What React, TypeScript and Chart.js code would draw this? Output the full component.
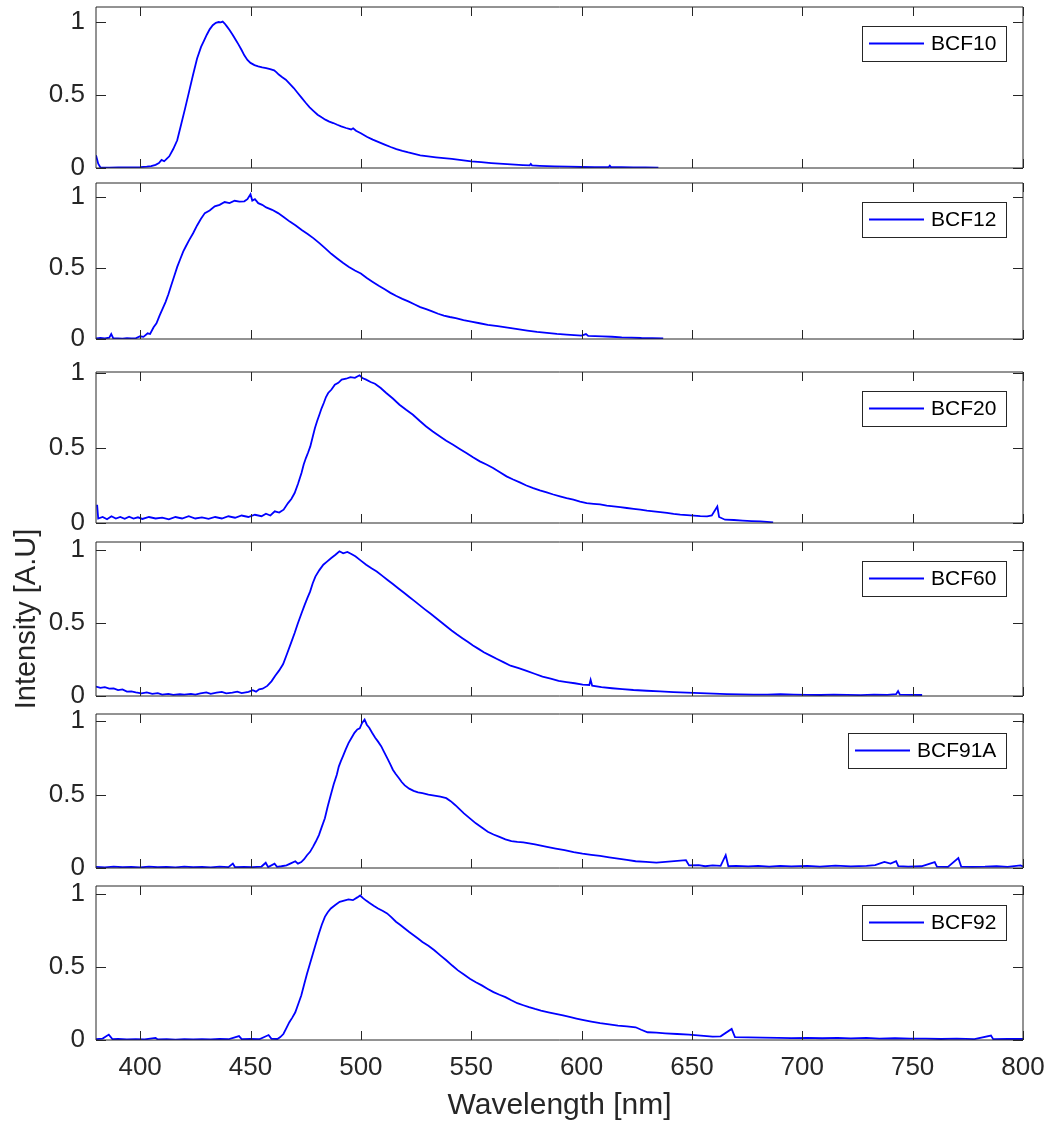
import React, { useEffect, useRef } from 'react';
import { Chart, registerables } from 'chart.js';

Chart.register(...registerables);

const FONT = "'Liberation Sans', Arial, Helvetica, sans-serif";
const TEXT_COLOR = '#262626';
const LINE_COLOR = '#0000ff';

const X_TICKS = [400, 450, 500, 550, 600, 650, 700, 750, 800];
const Y_TICKS = [0, 0.5, 1];
const Y_TICK_LABELS = ['0', '0.5', '1'];
const X_TITLE = 'Wavelength [nm]';
const Y_TITLE = 'Intensity [A.U]';

const SERIES_NAMES = ['BCF10', 'BCF12', 'BCF20', 'BCF60', 'BCF91A', 'BCF92'];

// ---- BCF10 ----
const wl10 = [380, 381, 382, 386, 390, 395, 400, 403, 405, 407, 408.5, 409.7, 410.9, 412, 413.2, 415, 416.8, 418.6, 420.4, 422.2, 424, 425.8, 427.6, 429, 430.2, 431.5, 432.9, 434.3, 435.6, 436.5, 437.4, 438.3, 439.2, 440.5, 441.9, 443.2, 444.6, 445.9, 447.2, 448.6, 450, 451.8, 453.5, 455.3, 457.1, 458.9, 460.7, 461.8, 462.8, 464.4, 466, 467.8, 469.6, 471.4, 473.2, 475, 476.8, 478.6, 480.4, 482.2, 483.9, 485.7, 487.5, 489.3, 491.1, 493.3, 495.6, 496.5, 497.8, 500, 502.7, 505.4, 508.1, 510.8, 513.5, 516.1, 518.8, 521.5, 524.2, 526.9, 530.5, 534, 537.6, 541.2, 545.6, 550, 554.5, 559.1, 564.5, 569.8, 573.4, 576.5, 577, 577.5, 581, 587.7, 594, 600, 606, 612.3, 612.8, 613.3, 618, 623.5, 629, 634.8];
const int10 = [0.087, 0.03, 0.004, 0.003, 0.004, 0.004, 0.006, 0.009, 0.013, 0.022, 0.034, 0.055, 0.046, 0.062, 0.08, 0.13, 0.19, 0.3, 0.41, 0.525, 0.64, 0.75, 0.83, 0.875, 0.913, 0.95, 0.978, 0.995, 1.0, 0.998, 1.003, 0.99, 0.972, 0.945, 0.913, 0.88, 0.845, 0.81, 0.772, 0.74, 0.72, 0.705, 0.697, 0.69, 0.685, 0.678, 0.669, 0.655, 0.64, 0.622, 0.605, 0.577, 0.548, 0.514, 0.48, 0.447, 0.416, 0.39, 0.365, 0.347, 0.331, 0.318, 0.308, 0.296, 0.285, 0.274, 0.264, 0.272, 0.255, 0.238, 0.214, 0.194, 0.177, 0.16, 0.144, 0.13, 0.118, 0.107, 0.097, 0.087, 0.08, 0.073, 0.067, 0.062, 0.054, 0.046, 0.04, 0.034, 0.028, 0.023, 0.02, 0.018, 0.028, 0.018, 0.015, 0.011, 0.009, 0.007, 0.006, 0.006, 0.016, 0.006, 0.005, 0.004, 0.004, 0.003];

// ---- BCF12 ----
const wl12 = [380, 382, 384, 386, 386.9, 387.8, 390, 392, 394, 396, 398, 400, 401.5, 403.4, 404.5, 406.1, 407.4, 408.8, 410.1, 411.5, 412.8, 414.1, 415.5, 416.8, 418.1, 419.5, 420.8, 422.2, 424, 425.8, 427.5, 429.3, 431.5, 433.8, 436, 438.3, 440.5, 442.8, 445, 447.2, 448.6, 450, 450.8, 452, 453.5, 455.3, 457.1, 459.8, 462.5, 465, 467.8, 470.5, 473.2, 475.9, 478.6, 481.2, 483.9, 486.6, 489.3, 492, 494.6, 497.3, 500, 502.7, 505.4, 508.1, 510.8, 513.4, 516.1, 518.8, 521.5, 524.2, 526.9, 529.6, 532.3, 535, 537.6, 540.3, 543, 546.5, 550, 553.8, 557.5, 562, 566.5, 571, 575.4, 579.8, 584.3, 588.8, 593.2, 596.6, 600, 602, 603, 609.3, 613.7, 618.2, 622.6, 627.1, 632, 637];
const int12 = [0.005, 0.008, 0.004, 0.01, 0.035, 0.006, 0.005, 0.003, 0.006, 0.004, 0.005, 0.019, 0.015, 0.04, 0.035, 0.083, 0.11, 0.165, 0.21, 0.26, 0.315, 0.378, 0.445, 0.508, 0.56, 0.615, 0.655, 0.697, 0.745, 0.8, 0.845, 0.887, 0.905, 0.934, 0.945, 0.965, 0.958, 0.974, 0.968, 0.97, 0.985, 1.02, 0.975, 0.985, 0.957, 0.945, 0.927, 0.91, 0.887, 0.86, 0.827, 0.8, 0.768, 0.74, 0.709, 0.675, 0.638, 0.6, 0.567, 0.535, 0.508, 0.482, 0.461, 0.43, 0.402, 0.375, 0.35, 0.325, 0.303, 0.283, 0.265, 0.245, 0.225, 0.21, 0.194, 0.178, 0.165, 0.155, 0.147, 0.133, 0.123, 0.111, 0.1, 0.09, 0.08, 0.069, 0.059, 0.05, 0.043, 0.036, 0.031, 0.027, 0.024, 0.035, 0.022, 0.019, 0.016, 0.012, 0.01, 0.007, 0.006, 0.005];

// ---- BCF20 ----
const wl20 = [380.5, 381, 383, 385, 387, 389, 391, 393, 395, 397, 399, 401, 404, 407, 410, 413, 416, 419, 422, 425, 428, 431, 434, 437, 440, 443, 446, 449, 452, 455, 457, 459, 461, 463, 465, 467, 468.5, 470, 471.5, 473.1, 474.1, 475.1, 476.1, 477.1, 478.2, 479.2, 480.2, 481.2, 482.2, 483.2, 484.2, 485.2, 486.7, 488.2, 489.8, 491.3, 493.3, 495.3, 497.3, 499.4, 500.9, 502.4, 504.4, 506.4, 509, 511.5, 514.5, 517.5, 520.5, 523.6, 526.6, 529.6, 532.6, 535.7, 538.7, 541.8, 544.8, 547.8, 550.8, 553.9, 556.9, 559.9, 563, 566, 569, 572, 575, 578.1, 581.1, 584.2, 587.2, 590.2, 593.2, 596.3, 599.3, 602.3, 605.4, 608.4, 611.4, 614.5, 617.5, 620.5, 623.6, 626.6, 629.6, 632.6, 635.7, 638.7, 641.7, 644.7, 647.8, 650.8, 653.8, 656.9, 659, 661.5, 662.3, 665, 669, 673, 677, 681, 684, 686.8];
const int20 = [0.122, 0.03, 0.04, 0.025, 0.045, 0.03, 0.04, 0.028, 0.042, 0.03, 0.038, 0.027, 0.04, 0.03, 0.036, 0.024, 0.04, 0.03, 0.045, 0.03, 0.038, 0.028, 0.04, 0.03, 0.045, 0.035, 0.05, 0.04, 0.055, 0.045, 0.062, 0.05, 0.078, 0.07, 0.089, 0.133, 0.16, 0.2, 0.26, 0.333, 0.39, 0.433, 0.47, 0.511, 0.575, 0.633, 0.68, 0.722, 0.765, 0.8, 0.84, 0.867, 0.89, 0.922, 0.935, 0.956, 0.962, 0.973, 0.968, 0.985, 0.965, 0.956, 0.94, 0.929, 0.9, 0.867, 0.83, 0.789, 0.755, 0.722, 0.682, 0.644, 0.61, 0.578, 0.548, 0.522, 0.494, 0.467, 0.438, 0.411, 0.39, 0.367, 0.338, 0.311, 0.29, 0.271, 0.25, 0.233, 0.218, 0.204, 0.19, 0.178, 0.166, 0.156, 0.143, 0.133, 0.128, 0.124, 0.116, 0.111, 0.106, 0.1, 0.094, 0.089, 0.083, 0.078, 0.072, 0.067, 0.061, 0.056, 0.052, 0.049, 0.046, 0.044, 0.05, 0.11, 0.04, 0.022, 0.02, 0.016, 0.013, 0.011, 0.008, 0.004];

// ---- BCF60 ----
const wl60 = [380, 382, 384, 386, 388, 390, 392, 394, 396, 398, 400.6, 403, 405.5, 408, 410, 412.8, 415, 418, 420, 423, 425, 427.3, 430, 432, 434.6, 437, 439, 441.8, 444, 446, 449.1, 451, 452.5, 453.9, 455.5, 457.6, 459.5, 461.2, 463, 464.8, 466.6, 468.5, 470, 471.4, 473, 474.5, 475.8, 477, 478.2, 479.4, 481.2, 483, 484.8, 486.6, 488.5, 490.3, 492, 493.9, 495.7, 497.5, 500, 502.4, 504.8, 507.2, 509.6, 512.1, 514.5, 516.9, 519.4, 521.8, 524.2, 526.6, 529, 531.5, 533.9, 536.3, 538.7, 541.1, 543.6, 546, 548.4, 550.8, 553.3, 555.7, 558.7, 561.7, 564.8, 567.8, 571.5, 575.1, 578.7, 582.3, 586, 589.6, 593.2, 596.9, 600.5, 603.5, 604.1, 604.8, 609, 613.8, 618.5, 623.5, 629.5, 635.6, 641.6, 647.7, 653.8, 659.8, 665.8, 671.9, 678, 684.1, 690.1, 696.2, 702.2, 708.3, 714.3, 720.4, 726.5, 732.5, 738.5, 742.5, 743.4, 744.2, 749, 754.3];
const int60 = [0.065, 0.055, 0.06, 0.05, 0.052, 0.04, 0.045, 0.03, 0.032, 0.025, 0.018, 0.025, 0.015, 0.02, 0.01, 0.015, 0.008, 0.012, 0.009, 0.015, 0.01, 0.018, 0.025, 0.015, 0.023, 0.028, 0.018, 0.023, 0.03, 0.02, 0.028, 0.04, 0.03, 0.046, 0.05, 0.069, 0.1, 0.138, 0.175, 0.218, 0.29, 0.368, 0.43, 0.494, 0.56, 0.621, 0.67, 0.713, 0.77, 0.816, 0.86, 0.897, 0.92, 0.943, 0.965, 0.989, 0.975, 0.984, 0.97, 0.954, 0.925, 0.897, 0.872, 0.851, 0.822, 0.793, 0.765, 0.736, 0.707, 0.678, 0.65, 0.621, 0.592, 0.563, 0.535, 0.506, 0.477, 0.448, 0.42, 0.395, 0.37, 0.345, 0.322, 0.299, 0.276, 0.253, 0.23, 0.207, 0.19, 0.172, 0.152, 0.133, 0.118, 0.103, 0.095, 0.087, 0.078, 0.075, 0.11, 0.07, 0.06, 0.053, 0.047, 0.041, 0.036, 0.032, 0.027, 0.023, 0.019, 0.016, 0.013, 0.011, 0.01, 0.009, 0.012, 0.009, 0.008, 0.007, 0.01, 0.007, 0.006, 0.009, 0.008, 0.012, 0.034, 0.01, 0.008, 0.007];

// ---- BCF91A ----
const wl91 = [380, 384, 388, 392, 396, 400, 404, 408, 412, 416, 420, 424, 428, 432, 436, 440, 442, 443, 447, 451, 455, 456.9, 458, 460.9, 462, 464, 466.3, 468, 470.3, 471.5, 473, 474.3, 475.6, 477, 478.3, 479.6, 481, 482.3, 483.7, 485, 486.4, 487.7, 489.1, 490, 490.9, 492, 493.1, 494.4, 495.8, 497.1, 498.4, 499.5, 500.5, 501.7, 502.7, 503.8, 505.1, 506.5, 507.8, 509.2, 510.5, 511.9, 513.2, 514.5, 515.8, 517.2, 518.5, 519.9, 521.9, 523.9, 525.9, 527.9, 530.6, 533.3, 536, 538.7, 540.7, 542.7, 544.7, 546.7, 549.4, 552.1, 554.8, 557.5, 560.1, 562.8, 565.5, 568.2, 570.9, 573.6, 576.3, 578.9, 581.6, 584.3, 588.3, 592.3, 596.4, 600.4, 604.4, 608.4, 612.5, 616.5, 620.5, 624.5, 629.2, 633.9, 647.3, 648.7, 653, 656, 659.4, 663, 665.3, 666.5, 670, 675.5, 680, 685, 690, 695, 702.3, 708, 715, 722, 729.1, 733, 737.2, 740, 742.5, 743.5, 748, 754, 760, 761, 766, 770.7, 772, 777, 782.8, 788, 793, 798.9, 800];
const int91 = [0.008, 0.004, 0.01, 0.005, 0.008, 0.004, 0.009, 0.005, 0.007, 0.004, 0.01, 0.005, 0.008, 0.004, 0.009, 0.006, 0.03, 0.005, 0.008, 0.006, 0.01, 0.036, 0.006, 0.03, 0.008, 0.012, 0.018, 0.03, 0.046, 0.03, 0.04, 0.06, 0.087, 0.11, 0.144, 0.18, 0.224, 0.28, 0.338, 0.42, 0.498, 0.57, 0.635, 0.69, 0.726, 0.765, 0.806, 0.85, 0.886, 0.92, 0.943, 0.95, 0.985, 1.01, 0.975, 0.954, 0.92, 0.886, 0.86, 0.829, 0.79, 0.749, 0.71, 0.669, 0.64, 0.612, 0.585, 0.562, 0.54, 0.525, 0.515, 0.509, 0.5, 0.493, 0.485, 0.475, 0.455, 0.429, 0.4, 0.372, 0.338, 0.304, 0.275, 0.247, 0.228, 0.212, 0.195, 0.183, 0.178, 0.174, 0.168, 0.16, 0.152, 0.144, 0.132, 0.121, 0.108, 0.098, 0.09, 0.082, 0.073, 0.064, 0.055, 0.046, 0.041, 0.037, 0.053, 0.018, 0.02, 0.012, 0.018, 0.015, 0.087, 0.012, 0.014, 0.011, 0.015, 0.01, 0.014, 0.011, 0.014, 0.01, 0.016, 0.011, 0.014, 0.02, 0.041, 0.03, 0.046, 0.012, 0.009, 0.012, 0.04, 0.01, 0.008, 0.068, 0.01, 0.008, 0.009, 0.012, 0.008, 0.018, 0.01];

// ---- BCF92 ----
const wl92 = [380, 383, 385.8, 387.5, 390, 394, 398, 402, 407, 408, 412, 416, 420, 424, 428, 432, 436, 440, 444.8, 446, 450, 454, 458.2, 459.5, 462.2, 463.5, 464.9, 466.2, 467.6, 469, 470.3, 471.6, 473, 474.3, 475.6, 477, 478.3, 479.6, 481, 482.3, 483.7, 485, 486.4, 488.4, 490.4, 492.4, 494.4, 496.4, 498.4, 499.7, 501.1, 502.4, 503.8, 505.8, 507.8, 509.8, 511.9, 513.9, 515.9, 517.9, 519.9, 521.9, 523.9, 525.9, 527.9, 530.6, 533.3, 536, 538.7, 541.4, 544, 546.7, 549.4, 552.1, 554.8, 557.5, 560.1, 562.8, 565.5, 568.2, 570.9, 573.6, 576.2, 578.9, 581.6, 585, 588.3, 591.6, 595, 597.7, 600.4, 604.4, 608.4, 612.5, 616.5, 620.5, 624.5, 627, 629.9, 633.9, 637.9, 643.3, 648.7, 654, 659.4, 663, 668, 669.5, 675.5, 682, 689, 695, 702.3, 709, 716, 722, 729.1, 735, 742, 749, 756, 763, 770, 778, 785.5, 786.5, 793, 800];
const int92 = [0.005, 0.01, 0.037, 0.005, 0.008, 0.004, 0.006, 0.004, 0.014, 0.004, 0.006, 0.003, 0.005, 0.004, 0.006, 0.004, 0.007, 0.005, 0.027, 0.006, 0.008, 0.005, 0.034, 0.008, 0.007, 0.02, 0.041, 0.08, 0.122, 0.155, 0.19, 0.245, 0.305, 0.38, 0.454, 0.525, 0.592, 0.66, 0.729, 0.79, 0.844, 0.875, 0.901, 0.925, 0.947, 0.955, 0.963, 0.958, 0.977, 0.99, 0.97, 0.955, 0.94, 0.92, 0.901, 0.885, 0.867, 0.84, 0.81, 0.788, 0.764, 0.74, 0.718, 0.695, 0.672, 0.645, 0.615, 0.58, 0.546, 0.51, 0.477, 0.448, 0.42, 0.396, 0.374, 0.35, 0.328, 0.31, 0.294, 0.272, 0.252, 0.238, 0.225, 0.213, 0.202, 0.19, 0.179, 0.168, 0.156, 0.147, 0.138, 0.126, 0.115, 0.107, 0.099, 0.093, 0.087, 0.07, 0.053, 0.05, 0.046, 0.041, 0.037, 0.03, 0.023, 0.025, 0.076, 0.02, 0.018, 0.016, 0.015, 0.013, 0.014, 0.012, 0.015, 0.011, 0.014, 0.01, 0.012, 0.009, 0.009, 0.007, 0.009, 0.006, 0.03, 0.006, 0.008, 0.007];

const SERIES_WL = [wl10, wl12, wl20, wl60, wl91, wl92];
const SERIES_INT = [int10, int12, int20, int60, int91, int92];
const Y_MAX = [1.103, 1.099, 1.007, 1.052, 1.048, 1.055];

// layout (page pixels) of each axes box
const BOX_TOP = [7, 183, 372, 542, 714, 886];
const BOX_BOTTOM = [168, 339, 523, 696, 868, 1040];
const PAGE_W = 1061;
const PAGE_H = 1124;
const AXIS_LEFT = 96;
const AXIS_RIGHT = 1023;
const PAD = 14;

function Panel({ idx }: { idx: number }) {
  const ref = useRef<HTMLCanvasElement | null>(null);
  const isLast = idx === SERIES_NAMES.length - 1;
  const boxH = BOX_BOTTOM[idx] - BOX_TOP[idx];
  const bottomExtra = isLast ? PAGE_H - BOX_BOTTOM[idx] : 14;
  const canvasTop = BOX_TOP[idx] - PAD;
  const canvasH = boxH + PAD + bottomExtra;

  useEffect(() => {
    const canvas = ref.current;
    if (!canvas) return;
    const name = SERIES_NAMES[idx];
    const wl = SERIES_WL[idx];
    const vals = SERIES_INT[idx];
    const data = wl.map((x, i) => ({ x, y: vals[i] }));

    const framePlugin = {
      id: 'frameAndLegend',
      afterDatasetsDraw(chart: any) {
        const { ctx, chartArea: a, scales } = chart;
        const xs = scales.x;
        const ys = scales.y;
        ctx.save();
        ctx.strokeStyle = TEXT_COLOR;
        ctx.lineWidth = 1;
        ctx.beginPath();
        ctx.rect(a.left, a.top, a.right - a.left, a.bottom - a.top);
        ctx.stroke();
        ctx.beginPath();
        for (const v of X_TICKS) {
          const px = Math.round(xs.getPixelForValue(v)) + 0.5;
          ctx.moveTo(px, a.bottom);
          ctx.lineTo(px, a.bottom - 9);
          ctx.moveTo(px, a.top);
          ctx.lineTo(px, a.top + 9);
        }
        for (const v of Y_TICKS) {
          const py = Math.round(ys.getPixelForValue(v)) + 0.5;
          ctx.moveTo(a.left, py);
          ctx.lineTo(a.left + 10, py);
          ctx.moveTo(a.right, py);
          ctx.lineTo(a.right - 10, py);
        }
        ctx.stroke();

        // legend box
        ctx.font = `21px ${FONT}`;
        const tw = ctx.measureText(name).width;
        const w = Math.round(tw + 79);
        const h = 35;
        const right = Math.round(a.right - 17);
        const left = right - w;
        const top = Math.round(a.top + 19);
        ctx.fillStyle = '#ffffff';
        ctx.fillRect(left, top, w, h);
        ctx.strokeStyle = TEXT_COLOR;
        ctx.lineWidth = 1;
        ctx.strokeRect(left + 0.5, top + 0.5, w, h);
        const my = top + h / 2;
        ctx.strokeStyle = LINE_COLOR;
        ctx.lineWidth = 1.8;
        ctx.beginPath();
        ctx.moveTo(left + 7, my);
        ctx.lineTo(left + 62, my);
        ctx.stroke();
        ctx.fillStyle = '#000000';
        ctx.textBaseline = 'middle';
        ctx.textAlign = 'left';
        ctx.fillText(name, left + 69, my + 1);
        ctx.restore();
      },
    };

    const chart = new Chart(canvas, {
      type: 'line',
      data: {
        datasets: [
          {
            label: name,
            data,
            borderColor: LINE_COLOR,
            backgroundColor: LINE_COLOR,
            borderWidth: 1.8,
            pointRadius: 0,
            tension: 0,
            fill: false,
          },
        ],
      },
      options: {
        animation: false,
        responsive: false,
        devicePixelRatio: 1,
        layout: { padding: { top: PAD, right: PAGE_W - AXIS_RIGHT, left: 0, bottom: 0 } },
        plugins: {
          legend: { display: false },
          tooltip: { enabled: false },
        },
        scales: {
          x: {
            type: 'linear',
            min: 380,
            max: 800,
            grid: { display: false, drawTicks: false },
            border: { display: false },
            afterBuildTicks: (s: any) => {
              s.ticks = X_TICKS.map((v) => ({ value: v }));
            },
            afterFit: (s: any) => {
              s.height = bottomExtra;
              s.paddingLeft = 0;
              s.paddingRight = 0;
            },
            ticks: {
              display: isLast,
              padding: 12,
              color: TEXT_COLOR,
              font: { family: FONT, size: 26 },
              maxRotation: 0,
              autoSkip: false,
              callback: (v: any) => String(v),
            },
            title: {
              display: isLast,
              text: X_TITLE,
              color: TEXT_COLOR,
              font: { family: FONT, size: 30 },
              padding: { top: 0, bottom: 0 },
            },
          },
          y: {
            type: 'linear',
            min: 0,
            max: Y_MAX[idx],
            grid: { display: false, drawTicks: false },
            border: { display: false },
            afterBuildTicks: (s: any) => {
              s.ticks = Y_TICKS.map((v) => ({ value: v }));
            },
            afterFit: (s: any) => {
              s.width = AXIS_LEFT;
              s.paddingTop = 0;
              s.paddingBottom = 0;
            },
            ticks: {
              padding: 11,
              color: TEXT_COLOR,
              font: { family: FONT, size: 26 },
              autoSkip: false,
              callback: (v: any) => {
                const k = Y_TICKS.indexOf(Number(v));
                return k >= 0 ? Y_TICK_LABELS[k] : '';
              },
            },
            title: {
              display: idx === 3,
              text: Y_TITLE,
              color: TEXT_COLOR,
              font: { family: FONT, size: 29 },
              padding: { top: 10, bottom: 0 },
            },
          },
        },
      },
      plugins: [framePlugin],
    } as any);

    return () => chart.destroy();
  }, [idx]);

  return (
    <canvas
      ref={ref}
      width={PAGE_W}
      height={canvasH}
      style={{ position: 'absolute', left: 0, top: canvasTop, width: PAGE_W, height: canvasH }}
    />
  );
}

export default function App() {
  return (
    <div
      style={{
        position: 'absolute',
        left: 0,
        top: 0,
        width: PAGE_W,
        height: PAGE_H,
        background: '#ffffff',
        overflow: 'hidden',
      }}
    >
      {SERIES_NAMES.map((_, i) => (
        <Panel key={i} idx={i} />
      ))}
    </div>
  );
}
